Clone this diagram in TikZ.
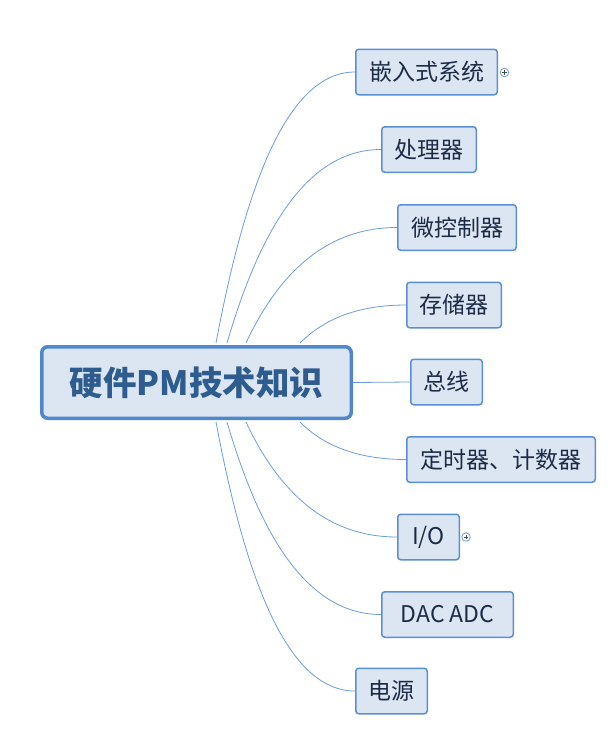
\documentclass[tikz,border=0pt]{standalone}
\usepackage{fontspec}
\setmainfont{Noto Sans CJK SC}
\definecolor{boxfill}{HTML}{DCE6F2}
\definecolor{boxline}{HTML}{5B8FD4}
\definecolor{rootline}{HTML}{4F86CC}
\definecolor{rootText}{HTML}{2E5C8F}
\definecolor{childText}{HTML}{1E2B47}
\definecolor{linkcol}{HTML}{6C9CD9}
\definecolor{markcol}{HTML}{444A55}
\tikzset{
  rootbox/.style={draw=rootline, line width=3.5pt, fill=boxfill, rounded corners=6pt,
    minimum width=309.5pt, minimum height=71.5pt, inner sep=0pt,
    font=\fontsize{33.5pt}{36pt}\selectfont\bfseries, text=rootText},
  childbox/.style={draw=boxline, line width=1.5pt, fill=boxfill, rounded corners=3pt,
    minimum height=45.5pt, inner sep=0pt,
    font=\fontsize{23pt}{26pt}\selectfont, text=childText},
  link/.style={draw=linkcol, line width=0.8pt},
  markc/.style={circle, draw=linkcol, line width=0.8pt, fill=white, minimum size=8.5pt, inner sep=0pt}
}
\begin{document}
\begin{tikzpicture}[x=1pt, y=-1pt]
\useasboundingbox (0,0) rectangle (614,729);
% root
\node[rootbox] (root) at (196.5,382.5) {硬件PM技术知识};
% children
\node[childbox, minimum width=141.5pt] (c1) at (426.5,72) {嵌入式系统};
\node[childbox, minimum width=94.5pt]  (c2) at (429,149.5) {处理器};
\node[childbox, minimum width=118.5pt] (c3) at (457,227.5) {微控制器};
\node[childbox, minimum width=94.5pt]  (c4) at (454,305) {存储器};
\node[childbox, minimum width=71.5pt]  (c5) at (446.5,382) {总线};
\node[childbox, minimum width=188.5pt] (c6) at (501,459.5) {定时器、计数器};
\node[childbox, minimum width=61.5pt]  (c7) at (428.5,537) {I/O};
\node[childbox, minimum width=131.5pt] (c8) at (447.5,614.5) {DAC ADC};
\node[childbox, minimum width=71.5pt]  (c9) at (391.5,691) {电源};
% collapse markers
\node[markc] (m1) at (504.5,72.5) {};
\node[markc] (m7) at (466,537) {};
\foreach \m in {m1,m7}{
  \draw[markcol, line width=0.7pt] ([xshift=-2.2pt]\m.center) -- ([xshift=2.2pt]\m.center);
  \draw[markcol, line width=0.7pt] ([yshift=-2.2pt]\m.center) -- ([yshift=2.2pt]\m.center);
}
% start points on root border
\coordinate (t1) at (216,343);
\coordinate (t2) at (227,343);
\coordinate (t3) at (246,343);
\coordinate (t4) at (300,343);
\coordinate (b4) at (300,422);
\coordinate (b3) at (246,422);
\coordinate (b2) at (227,422);
\coordinate (b1) at (216,422);
% connectors
\draw[link] (t1) .. controls +(28,-149) and +(-70,0) .. (c1.west);
\draw[link] (t2) .. controls +(31,-106) and +(-77,0) .. (c2.west);
\draw[link] (t3) .. controls +(30,-64) and +(-75,0) .. (c3.west);
\draw[link] (t4) .. controls +(21,-21) and +(-53,0) .. (c4.west);
\draw[link] (root.east) -- (c5.west);
\draw[link] (b4) .. controls +(21,21) and +(-53,0) .. (c6.west);
\draw[link] (b3) .. controls +(30,64) and +(-75,0) .. (c7.west);
\draw[link] (b2) .. controls +(31,106) and +(-77,0) .. (c8.west);
\draw[link] (b1) .. controls +(28,149) and +(-70,0) .. (c9.west);
\end{tikzpicture}
\end{document}
